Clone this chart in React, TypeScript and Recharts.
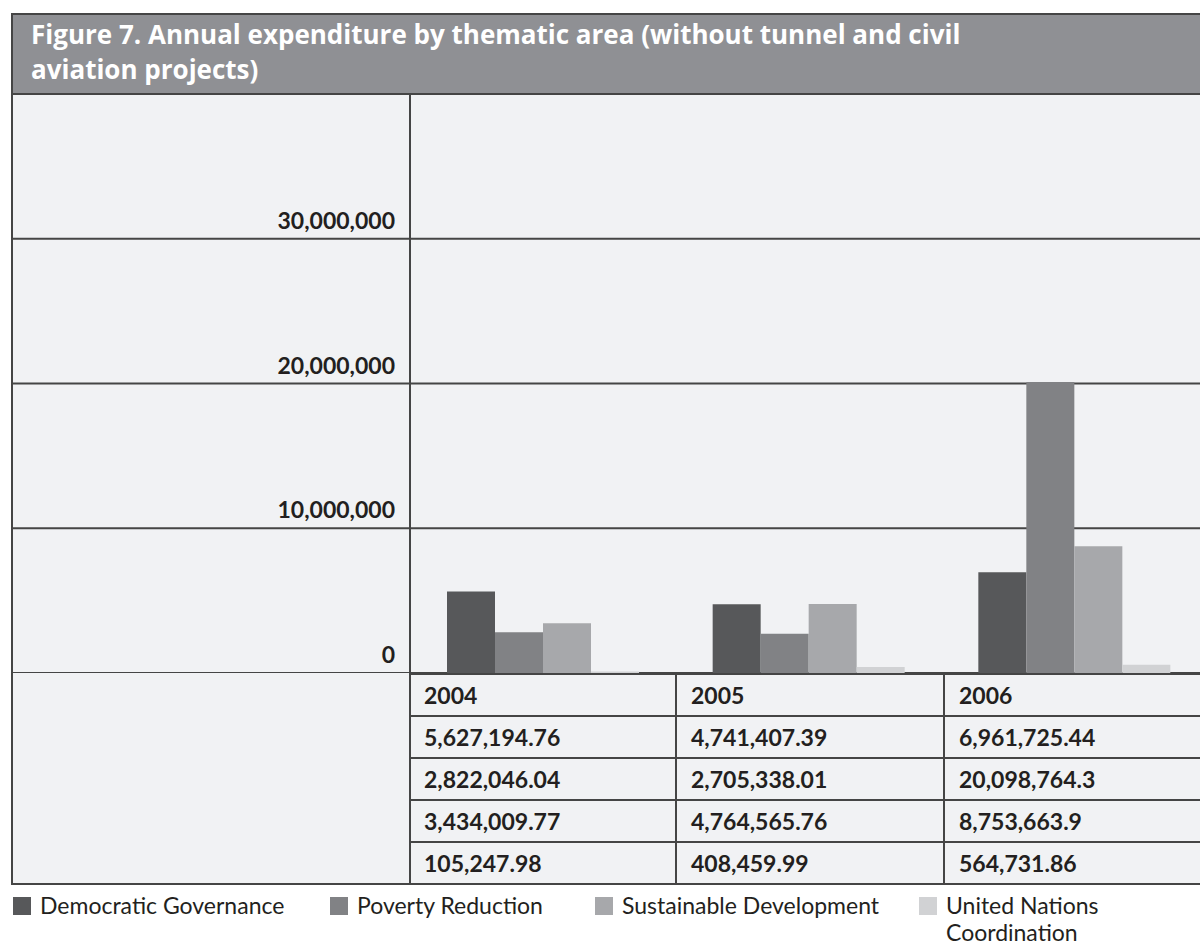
import { BarChart, Bar, XAxis, YAxis, CartesianGrid } from 'recharts';

const years = ['2004', '2005', '2006'];
const democraticGovernance = [5627194.76, 4741407.39, 6961725.44];
const povertyReduction = [2822046.04, 2705338.01, 20098764.3];
const sustainableDevelopment = [3434009.77, 4764565.76, 8753663.9];
const unCoordination = [105247.98, 408459.99, 564731.86];
const yTicks = [0, 10000000, 20000000, 30000000];

const seriesNames = ['Democratic Governance', 'Poverty Reduction', 'Sustainable Development', 'United Nations Coordination'];
const seriesValues = [democraticGovernance, povertyReduction, sustainableDevelopment, unCoordination];
const seriesColors = ['#57585a', '#818285', '#a7a8ab', '#d1d2d4'];

const data = years.map((year, i) => {
  const row: Record<string, string | number> = { year };
  seriesValues.forEach((vals, s) => { row['s' + s] = vals[i]; });
  return row;
});

const FONT = 'Lato, "Open Sans", sans-serif';
const TEXT = '#231f20';
const LINE = '#454545';
const BG = '#f1f2f4';

const fmt = (v: number) => v.toLocaleString('en-US', { maximumFractionDigits: 2 });

function YTick({ y, payload }: any) {
  return (
    <g>
      <line x1={0} x2={398} y1={y} y2={y} stroke={LINE} strokeWidth={2} />
      <text x={383} y={y - 10} textAnchor="end" fill={TEXT} fontFamily={FONT} fontWeight={700} fontSize={23}>
        {fmt(payload.value)}
      </text>
    </g>
  );
}

const colLeft = [410, 677, 945];
const colWidth = [267, 268, 300];
const rowTop = 673;
const rowH = 42;

export default function App() {
  const rows = [years, ...seriesValues.map((vals) => vals.map(fmt))];
  return (
    <div style={{ position: 'absolute', left: 0, top: 0, width: 1200, height: 945, overflow: 'hidden', background: '#fff', fontFamily: FONT, color: TEXT }}>
      {/* frame / background */}
      <div style={{ position: 'absolute', left: 11, top: 13, width: 1200, height: 870, background: BG, borderLeft: `2px solid ${LINE}`, borderBottom: `2px solid ${LINE}` }} />

      <div style={{ position: 'absolute', left: 12, top: 14 }}>
        <BarChart width={1195} height={659} data={data} margin={{ top: 80, right: 0, left: 0, bottom: 0 }} barGap={0}>
          <CartesianGrid horizontal vertical={false} stroke={LINE} strokeWidth={2} />
          <XAxis dataKey="year" hide />
          <YAxis
            width={398}
            domain={[0, 40000000]}
            ticks={yTicks}
            interval={0}
            tickLine={false}
            axisLine={{ stroke: LINE, strokeWidth: 2 }}
            tick={<YTick />}
          />
          {seriesNames.map((name, s) => (
            <Bar key={name} dataKey={'s' + s} name={name} fill={seriesColors[s]} barSize={48} isAnimationActive={false} />
          ))}
        </BarChart>
      </div>

      {/* title bar */}
      <div style={{ position: 'absolute', left: 11, top: 13, width: 1200, height: 82, boxSizing: 'border-box', background: '#8f9094', borderTop: `2px solid ${LINE}`, borderLeft: `2px solid ${LINE}`, borderBottom: `2px solid ${LINE}`, color: '#fff', fontFamily: '"Open Sans", sans-serif', fontWeight: 700, fontSize: 26, lineHeight: '35px', padding: '2px 0 0 18px' }}>
        Figure 7. Annual expenditure by thematic area (without tunnel and civil<br />aviation projects)
      </div>

      {/* data table */}
      <div style={{ position: 'absolute', left: 409, top: rowTop - 1, width: 2, height: rowH * 5 + 2, background: LINE }} />
      {rows.map((cells, r) => (
        cells.map((txt, c) => (
          <div key={r + '-' + c} style={{ position: 'absolute', left: colLeft[c], top: rowTop + r * rowH, width: colWidth[c], height: rowH, boxSizing: 'border-box', borderTop: `2px solid ${LINE}`, borderRight: `2px solid ${LINE}`, paddingLeft: 14, lineHeight: '40px', fontWeight: 700, fontSize: 23 }}>
            {txt}
          </div>
        ))
      ))}

      {/* legend */}
      <div style={{ position: 'absolute', left: 13, top: 892, display: 'flex', fontSize: 23, lineHeight: '27px' }}>
        {seriesNames.map((name, s) => (
          <div key={name} style={{ display: 'flex', width: [317, 265, 324, 270][s] }}>
            <div style={{ width: 18, height: 18, marginTop: 5, background: seriesColors[s], flexShrink: 0 }} />
            <div style={{ marginLeft: 9, width: s === 3 ? 170 : undefined }}>{name}</div>
          </div>
        ))}
      </div>
    </div>
  );
}
